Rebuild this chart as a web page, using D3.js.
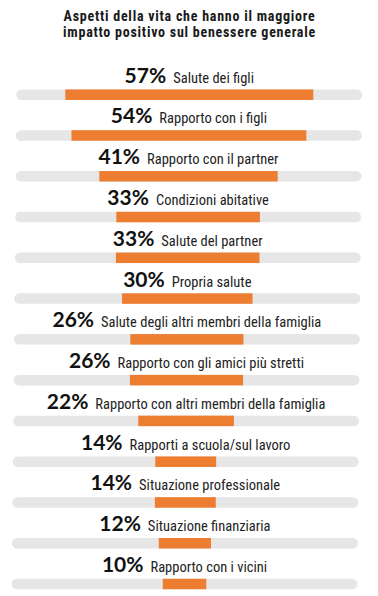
<!DOCTYPE html>
<html><head><meta charset="utf-8">
<script src="https://cdn.jsdelivr.net/npm/d3@7"></script>
<style>html,body{margin:0;padding:0;background:#fff;}svg{display:block;}</style>
</head><body>
<svg id="c" width="378" height="596"></svg>
<script>
const titleLines = ["Aspetti della vita che hanno il maggiore", "impatto positivo sul benessere generale"];
const categories = ["Salute dei figli","Rapporto con i figli","Rapporto con il partner","Condizioni abitative","Salute del partner","Propria salute","Salute degli altri membri della famiglia","Rapporto con gli amici più stretti","Rapporto con altri membri della famiglia","Rapporti a scuola/sul lavoro","Situazione professionale","Situazione finanziaria","Rapporto con i vicini"];
const values = [57,54,41,33,33,30,26,26,22,14,14,12,10];

const svg = d3.select("#c");
const y = d3.scalePoint().domain(d3.range(categories.length)).range([94.7, 584]);
const w = d3.scaleLinear().domain([0,100]).range([0,435]);
const cx = i => 189.3 - 0.4*i;
const trackW = 346, barH = 10.5;
const narrow = "'Liberation Sans Narrow','Roboto Condensed','Arial Narrow',sans-serif";

svg.append("g").selectAll("text").data(titleLines).join("text")
  .attr("text-anchor","middle")
  .attr("font-family",narrow)
  .attr("font-weight","bold").attr("font-size",14).attr("letter-spacing","0.75px").attr("fill","#1a1a1a")
  .attr("x", 189.5).attr("y", (d,i)=>20.5 + i*16)
  .text(d=>d);

const rows = svg.append("g").selectAll("g").data(values).join("g");
rows.append("rect")
  .attr("x",(d,i)=>cx(i)-trackW/2).attr("y",(d,i)=>y(i)-barH/2)
  .attr("width",trackW).attr("height",barH).attr("rx",barH/2)
  .attr("fill","#e6e6e6");
rows.append("rect")
  .attr("x",(d,i)=>cx(i)-w(d)/2).attr("y",(d,i)=>y(i)-barH/2)
  .attr("width",d=>w(d)).attr("height",barH)
  .attr("fill","#ed7d31");

rows.each(function(d,i){
  const g = d3.select(this);
  const p = g.append("text").attr("font-family","Lato,sans-serif").attr("font-weight","bold")
    .attr("font-size",21).attr("fill","#111").attr("y",y(i)-12).text(d+"%");
  const l = g.append("text").attr("font-family",narrow)
    .attr("font-size",14.5).attr("fill","#222").attr("y",y(i)-12).text(categories[i]);
  const pw = p.node().getComputedTextLength(), lw = l.node().getComputedTextLength();
  const gap = 7, tot = pw+gap+lw;
  const x0 = cx(i) - tot/2;
  p.attr("x",x0); l.attr("x",x0+pw+gap);
});
</script>
</body></html>
